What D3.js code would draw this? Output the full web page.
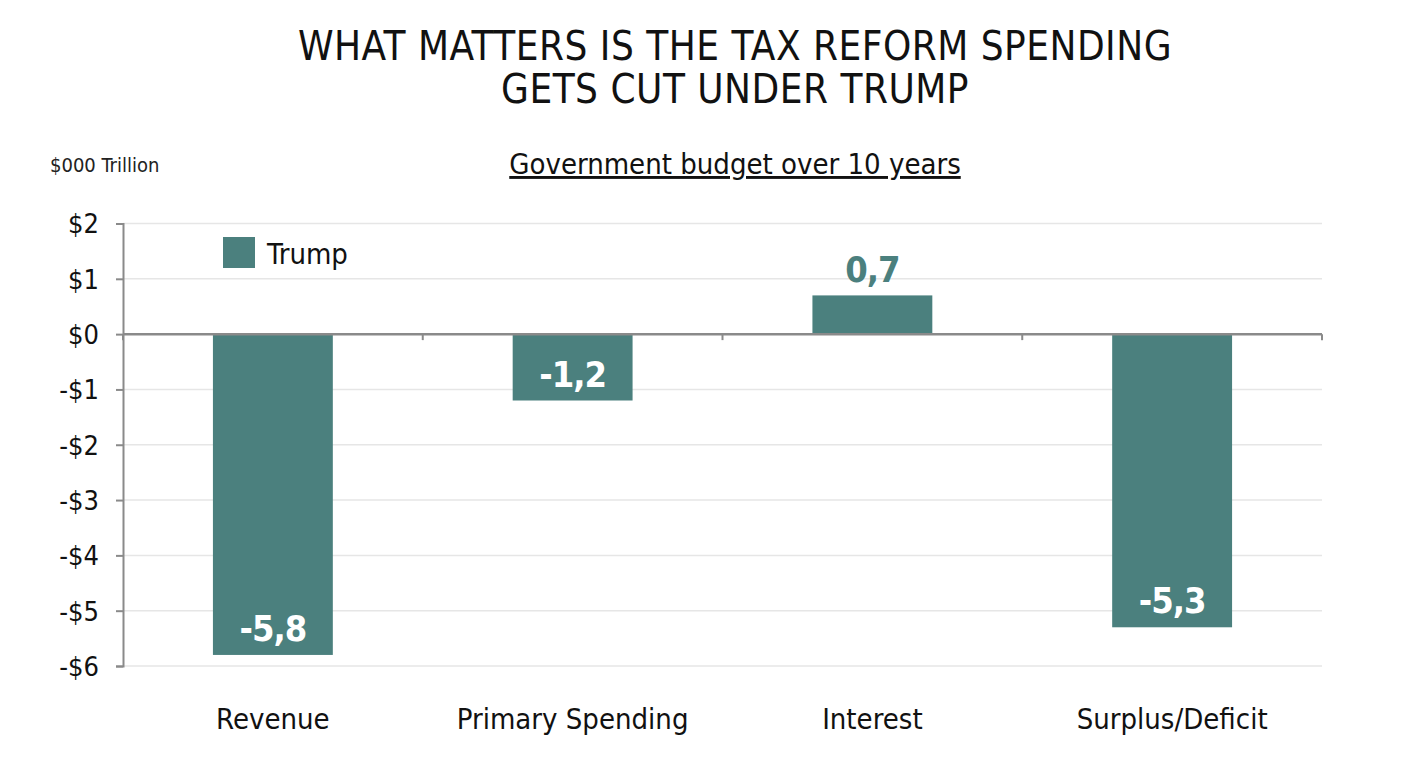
<!DOCTYPE html>
<html><head><meta charset="utf-8">
<script src="https://cdn.jsdelivr.net/npm/d3@7"></script>
<style>
html,body{margin:0;padding:0;background:#fff;}
svg text{font-family:"Liberation Sans Narrow","Arial Narrow","DejaVu Sans Condensed",sans-serif;font-stretch:condensed;}
</style></head>
<body>
<svg id="c" width="1417" height="768"></svg>
<script>
const categories = ["Revenue", "Primary Spending", "Interest", "Surplus/Deficit"];
const values = [-5.8, -1.2, 0.7, -5.3];
const valueLabels = ["-5,8", "-1,2", "0,7", "-5,3"];
const yTicks = [2, 1, 0, -1, -2, -3, -4, -5, -6];
const seriesName = "Trump";
const titleLines = ["WHAT MATTERS IS THE TAX REFORM SPENDING", "GETS CUT UNDER TRUMP"];
const subtitle = "Government budget over 10 years";
const unitLabel = "$000 Trillion";

const color = "#4b807e";
const svg = d3.select("#c");
const m = {left:123, right:1322, top:223.5, bottom:666};

const x = d3.scaleBand().domain(categories).range([m.left, m.right]).paddingInner(0.6).paddingOuter(0.3);
const xb = d3.scaleBand().domain(categories).range([m.left, m.right]);
const y = d3.scaleLinear().domain([-6, 2]).range([m.bottom, m.top]);

// title
svg.append("g").selectAll("text").data(titleLines).join("text")
  .attr("x", 735).attr("y", (d,i)=>60 + i*43)
  .attr("text-anchor","middle").attr("font-size", 40).attr("letter-spacing", 0.5).attr("fill","#111")
  .text(d=>d);

// subtitle
svg.append("text").attr("x", 735).attr("y", 174).attr("text-anchor","middle")
  .attr("font-size", 29).attr("fill","#111").attr("text-decoration","underline").text(subtitle);

svg.append("text").attr("x", 50).attr("y", 172).attr("font-size", 20).attr("fill","#222").text(unitLabel);

// gridlines
svg.append("g").selectAll("line").data(yTicks.filter(d=>d!==0)).join("line")
  .attr("x1", m.left).attr("x2", m.right).attr("y1", d=>y(d)).attr("y2", d=>y(d))
  .attr("stroke", "#e6e6e6").attr("stroke-width", 1.5);

// bars
svg.append("g").selectAll("rect").data(values).join("rect")
  .attr("x", (d,i)=>x(categories[i])).attr("width", x.bandwidth())
  .attr("y", d=>y(Math.max(0,d))).attr("height", d=>Math.abs(y(d)-y(0)))
  .attr("fill", color);

// y axis
const yAxis = svg.append("g").attr("transform", `translate(${m.left},0)`)
  .call(d3.axisLeft(y).tickValues(yTicks).tickSize(7).tickFormat(d=> (d<0?"-$":"$")+Math.abs(d)));
yAxis.attr("font-family", null);
yAxis.select(".domain").attr("stroke","#8a8a8a").attr("stroke-width",2);
yAxis.selectAll(".tick line").attr("stroke","#8a8a8a").attr("stroke-width",2);
yAxis.selectAll(".tick text").attr("font-size",27).attr("fill","#111").attr("x",-24).attr("dy","0.35em");

// x axis at zero
const xAxisG = svg.append("g").attr("transform", `translate(0,${y(0)})`);
xAxisG.append("line").attr("x1", m.left).attr("x2", m.right).attr("stroke","#8a8a8a").attr("stroke-width",2.5);
const bounds = categories.map(c=>xb(c)).concat([m.right]);
xAxisG.selectAll("line.tk").data(bounds).join("line").attr("class","tk")
  .attr("x1", d=>d).attr("x2", d=>d).attr("y1",0).attr("y2",6)
  .attr("stroke","#8a8a8a").attr("stroke-width",2);

// category labels
svg.append("g").selectAll("text").data(categories).join("text")
  .attr("x", d=>x(d)+x.bandwidth()/2).attr("y", 729)
  .attr("text-anchor","middle").attr("font-size", 29).attr("fill","#111").text(d=>d);

// value labels
svg.append("g").selectAll("text").data(values).join("text")
  .attr("x", (d,i)=>x(categories[i])+x.bandwidth()/2)
  .attr("y", d=> d<0 ? y(d)-14 : y(d)-13)
  .attr("text-anchor","middle").attr("font-size", 36).attr("letter-spacing", -1).attr("font-weight","bold")
  .attr("fill", d=> d<0 ? "#fff" : color).text((d,i)=>valueLabels[i]);

// legend
svg.append("rect").attr("x",223).attr("y",237).attr("width",32).attr("height",31).attr("fill",color);
svg.append("text").attr("x",267).attr("y",264).attr("font-size",29).attr("fill","#111").text(seriesName);
</script>
</body></html>
